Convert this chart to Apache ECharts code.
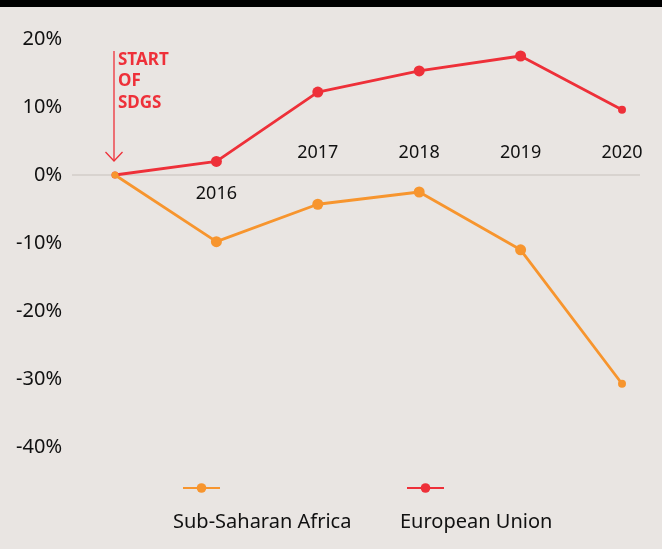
<!DOCTYPE html>
<html>
<head>
<meta charset="utf-8">
<script src="https://cdn.jsdelivr.net/npm/echarts@6/dist/echarts.min.js"></script>
<style>
html,body{margin:0;padding:0;background:#e9e5e2;}
#c{width:662px;height:549px;}
</style>
</head>
<body>
<div id="c"></div>
<script>
const years = ['2015', '2016', '2017', '2018', '2019', '2020'];
const seriesNames = ['Sub-Saharan Africa', 'European Union'];
const ssaValues = [0, -9.8, -4.3, -2.5, -11.0, -30.7];
const euValues = [0, 2.0, 12.2, 15.3, 17.5, 9.6];
const yTicks = { min: -40, max: 20, interval: 10 };
const annotation = 'START\nOF\nSDGS';

const RED = '#ee3039';
const ORANGE = '#f7952e';
const FONT = 'Noto Sans';
const GRID = { left: 115, right: 40, top: 39, bottom: 102 };
const H = 549;

const chart = echarts.init(document.getElementById('c'), null, { renderer: 'canvas' });

function sizeFn(v, p) {
  if (p.dataIndex === 0) return 7;
  if (p.dataIndex === years.length - 1) return 8;
  return 11;
}

const option = {
  backgroundColor: '#e9e5e2',
  animation: false,
  grid: Object.assign({ containLabel: false }, GRID),
  xAxis: [
    {
      type: 'category', data: years, boundaryGap: false, position: 'bottom',
      axisLine: { show: false, onZero: false }, axisTick: { show: false },
      axisLabel: {
        margin: 10, fontFamily: FONT, fontSize: 18, color: '#111',
        formatter: (v, i) => (i === 1 ? v : '')
      },
      splitLine: { show: false }
    },
    {
      type: 'category', data: years, boundaryGap: false, position: 'top',
      axisLine: { show: false, onZero: false }, axisTick: { show: false },
      axisLabel: {
        margin: 13, fontFamily: FONT, fontSize: 18, color: '#111',
        formatter: (v, i) => (i >= 2 ? v : '')
      },
      splitLine: { show: false }
    }
  ],
  yAxis: {
    type: 'value', min: yTicks.min, max: yTicks.max, interval: yTicks.interval,
    axisLine: { show: false }, axisTick: { show: false }, splitLine: { show: false },
    axisLabel: { margin: 53, fontFamily: FONT, fontSize: 20, color: '#111', formatter: '{value}%' }
  },
  legend: [
    { data: [seriesNames[0]], left: 182, top: 482, padding: 0, itemWidth: 37, itemHeight: 12, itemGap: 0,
      formatter: () => '', selectedMode: false, textStyle: { fontSize: 1 } },
    { data: [seriesNames[1]], left: 406, top: 482, padding: 0, itemWidth: 37, itemHeight: 12, itemGap: 0,
      formatter: () => '', selectedMode: false, textStyle: { fontSize: 1 } },
    { data: [{ name: seriesNames[0], icon: 'none' }], left: 168, top: 512, padding: 0, itemWidth: 0, itemHeight: 0,
      selectedMode: false, textStyle: { fontFamily: FONT, fontSize: 20, color: '#111' } },
    { data: [{ name: seriesNames[1], icon: 'none' }], left: 395, top: 512, padding: 0, itemWidth: 0, itemHeight: 0,
      selectedMode: false, textStyle: { fontFamily: FONT, fontSize: 20, color: '#111' } }
  ],
  series: [
    {
      name: seriesNames[1], type: 'line', data: euValues, color: RED,
      symbol: 'circle', symbolSize: sizeFn, showSymbol: true,
      lineStyle: { width: 2.8, color: RED }, itemStyle: { color: RED }, z: 3
    },
    {
      name: seriesNames[0], type: 'line', data: ssaValues, color: ORANGE,
      symbol: 'circle', symbolSize: sizeFn, showSymbol: true,
      lineStyle: { width: 2.8, color: ORANGE }, itemStyle: { color: ORANGE }, z: 4
    }
  ]
};
chart.setOption(option);

const p0 = chart.convertToPixel({ xAxisIndex: 0, yAxisIndex: 0 }, [0, 0]);
const pEnd = chart.convertToPixel({ xAxisIndex: 0, yAxisIndex: 0 }, [years.length - 1, 0]);
const ax = p0[0] - 1, ay = p0[1];
const gridBottomY = H - GRID.bottom;
chart.setOption({
  xAxis: [
    { offset: ay - gridBottomY },
    { offset: -(ay - GRID.top) }
  ],
  graphic: [
    { type: 'rect', left: 0, top: 0, shape: { x: 0, y: 0, width: 662, height: 7 }, style: { fill: '#000' }, z: 10 },
    { type: 'line', shape: { x1: p0[0] - 43, y1: ay, x2: pEnd[0] + 18, y2: ay },
      style: { stroke: '#d2cdc8', lineWidth: 1.5 }, z: 1 },
    { type: 'line', shape: { x1: ax, y1: ay - 124, x2: ax, y2: ay - 14 },
      style: { stroke: RED, lineWidth: 1.3 }, z: 5 },
    { type: 'polyline', shape: { points: [[ax - 8.5, ay - 23], [ax, ay - 14], [ax + 8.5, ay - 23]] },
      style: { stroke: RED, lineWidth: 1.3, fill: null }, z: 5 },
    { type: 'text', x: ax + 4, y: ay - 126,
      style: { text: annotation, fill: RED, font: 'bold 17px "Noto Sans"', lineHeight: 21.5, verticalAlign: 'top' }, z: 5 }
  ]
});
</script>
</body>
</html>
